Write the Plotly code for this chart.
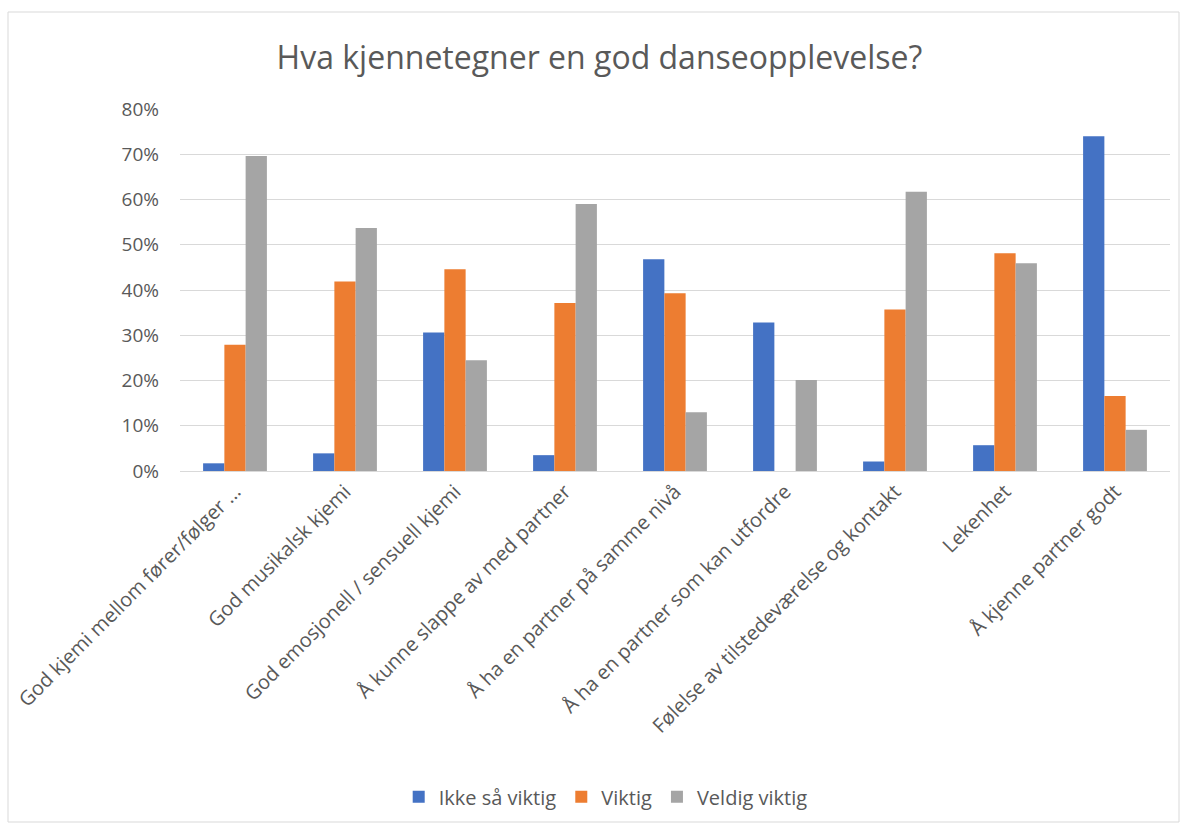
import plotly.graph_objects as go

categories = [
    "God kjemi mellom fører/følger ...",
    "God musikalsk kjemi",
    "God emosjonell / sensuell kjemi",
    "Å kunne slappe av med partner",
    "Å ha en partner på samme nivå",
    "Å ha en partner som kan utfordre",
    "Følelse av tilstedeværelse og kontakt",
    "Lekenhet",
    "Å kjenne partner godt",
]
ikke_sa_viktig = [0.017, 0.039, 0.306, 0.035, 0.468, 0.328, 0.021, 0.057, 0.740]
viktig = [0.279, 0.419, 0.446, 0.371, 0.393, 0.0, 0.357, 0.481, 0.166]
veldig_viktig = [0.696, 0.537, 0.245, 0.590, 0.130, 0.201, 0.617, 0.459, 0.091]
series_names = ["Ikke så viktig", "Viktig", "Veldig viktig"]
colors = ["#4472C4", "#ED7D31", "#A5A5A5"]
tick_vals = [0, 0.1, 0.2, 0.3, 0.4, 0.5, 0.6, 0.7, 0.8]
tick_text = ["0%", "10%", "20%", "30%", "40%", "50%", "60%", "70%", "80%"]

fig = go.Figure()
for name, vals, c in zip(series_names, [ikke_sa_viktig, viktig, veldig_viktig], colors):
    fig.add_trace(go.Bar(name=name, x=categories, y=vals, marker_color=c,
                         marker_line_width=0))

font_family = "Open Sans, Noto Sans, Liberation Sans, sans-serif"
fig.update_layout(
    width=1187, height=829,
    margin=dict(l=180, r=17, t=109, b=358),
    paper_bgcolor="white", plot_bgcolor="white",
    barmode="group", bargap=0.42, bargroupgap=0,
    title=dict(text="Hva kjennetegner en god danseopplevelse?", x=0.505, xanchor="center",
               y=1 - 58 / 829, yanchor="middle",
               font=dict(family=font_family, size=32, color="#595959")),
    font=dict(family=font_family, color="#595959"),
    legend=dict(orientation="h", x=0.43, xanchor="center", y=-0.9, yanchor="middle",
                font=dict(size=20, color="#595959"), traceorder="normal",
                itemwidth=30),
    showlegend=True,
)
fig.update_xaxes(tickangle=-45, tickfont=dict(size=20, color="#595959"),
                 showline=True, linecolor="#d9d9d9", linewidth=1, ticks="",
                 showgrid=False)
fig.update_yaxes(range=[0, 0.8], tickvals=tick_vals, ticktext=tick_text,
                 tickfont=dict(size=19, color="#595959"),
                 showgrid=True, gridcolor="#d9d9d9", gridwidth=1,
                 zeroline=False, showline=False, ticks="", ticklabelstandoff=20)
fig.add_shape(type="rect", xref="paper", yref="paper",
              x0=-172 / 990, x1=1 + 9 / 990, y0=-(822 - 471) / 362, y1=1 + (109 - 12) / 362,
              line=dict(color="#d9d9d9", width=1), fillcolor="rgba(0,0,0,0)", layer="below")

fig.write_html("out.html")
